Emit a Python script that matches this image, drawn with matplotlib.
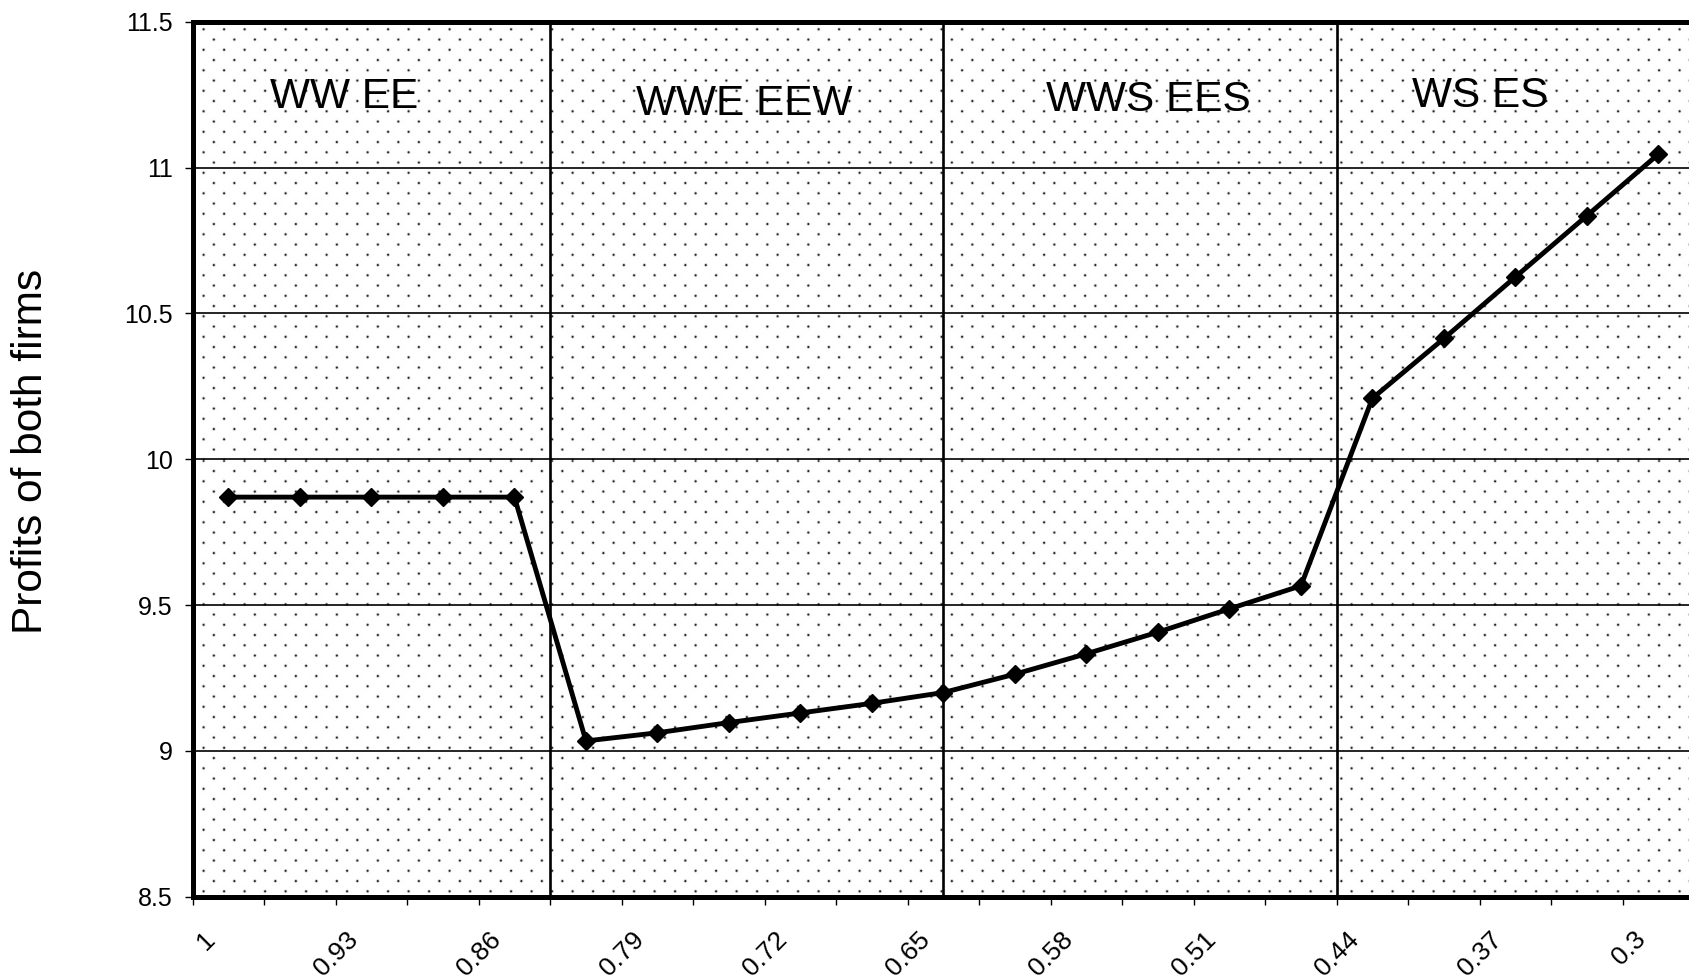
import numpy as np
import matplotlib
matplotlib.use('Agg')
import matplotlib.pyplot as plt
from matplotlib.transforms import ScaledTranslation

plt.rcParams['font.family'] = ['Liberation Sans', 'DejaVu Sans']

# ---------------- data ----------------
price_ratio = [1, 0.965, 0.93, 0.895, 0.86, 0.825, 0.79, 0.755, 0.72, 0.685,
               0.65, 0.615, 0.58, 0.545, 0.51, 0.475, 0.44, 0.405, 0.37, 0.335, 0.3]
profits = [9.87, 9.87, 9.87, 9.87, 9.87, 9.034, 9.062, 9.097, 9.13, 9.163,
           9.2, 9.263, 9.333, 9.407, 9.487, 9.566, 10.209, 10.414, 10.625, 10.835, 11.046]
x_tick_labels = ['1', '0.93', '0.86', '0.79', '0.72', '0.65', '0.58', '0.51', '0.44', '0.37', '0.3']
y_ticks = [8.5, 9, 9.5, 10, 10.5, 11, 11.5]
y_tick_labels = ['8.5', '9', '9.5', '10', '10.5', '11', '11.5']
regime_labels = ['WW EE', 'WWE EEW', 'WWS EES', 'WS ES']
y_label = 'Profits of both firms'

# ---------------- figure ----------------
FW, FH = 1690, 977
fig = plt.figure(figsize=(FW / 100, FH / 100), dpi=100)
ax_left, ax_top, ax_right, ax_bottom = 192.7, 21.7, 1694.2, 896.7
ax = fig.add_axes([ax_left / FW, 1 - ax_bottom / FH,
                   (ax_right - ax_left) / FW, (ax_bottom - ax_top) / FH])

# dotted background pattern
H = int(round(ax_bottom - ax_top))
W = int(round(ax_right - ax_left))
yy, xx = np.mgrid[0:H, 0:W].astype(float) + 0.5
y0 = 30.0 - ax_top
x0 = 203.3 - ax_left
rp, cp = 10.25, 20.5
r = np.round((yy - y0) / rp)
dy = yy - (y0 + r * rp)
xoff = x0 + (r % 2) * cp / 2
dx = np.mod(xx - xoff + cp / 2, cp) - cp / 2
dark = np.clip(1.05 * np.exp(-(dx ** 2 + dy ** 2) / (2 * 0.8 ** 2)), 0, 0.85)
img = np.repeat((1 - dark)[..., None], 3, axis=2)
ax.imshow(img, extent=(0, 1, 0, 1), transform=ax.transAxes, aspect='auto',
          interpolation='nearest', zorder=0)

idx = np.arange(len(price_ratio))

# horizontal gridlines
for yv in y_ticks[1:-1]:
    ax.axhline(yv, color='black', linewidth=1.2, zorder=1)

# regime separators
for b in [4.5, 10, 15.5]:
    ax.axvline(b, color='black', linewidth=1.9, zorder=2)

# data line
ax.plot(idx, profits, color='black', linewidth=3.5, marker='D',
        markersize=9.6, markeredgewidth=1, markerfacecolor='black',
        markeredgecolor='black', zorder=4, clip_on=False)

# regime labels
label_pos = [(1.62, 11.203), (7.22, 11.18), (12.86, 11.195), (17.51, 11.207)]
for (xp, yp), txt in zip(label_pos, regime_labels):
    ax.text(xp, yp, txt, ha='center', va='baseline', fontsize=30.5, color='black', zorder=5)

ax.set_xlim(-0.5, len(price_ratio) - 0.5)
ax.set_ylim(8.5, 11.5)

# x axis: tick marks between categories, labels every other category
ax.set_xticks(idx[::2])
ax.set_xticklabels(x_tick_labels, rotation=45, ha='right', va='center',
                   rotation_mode='anchor', fontsize=19)
ax.set_xticks(np.arange(-0.5, len(price_ratio), 1.0), minor=True)
ax.tick_params(axis='x', which='major', length=0, pad=28)
ax.tick_params(axis='x', which='minor', length=6, width=1, direction='out', color='black')
shift = ScaledTranslation(-17 / 100, 0, fig.dpi_scale_trans)
for lbl in ax.get_xticklabels():
    lbl.set_transform(lbl.get_transform() + shift)

# y axis
ax.set_yticks(y_ticks)
ax.set_yticklabels(y_tick_labels, fontsize=18)
ax.tick_params(axis='y', which='major', length=6, width=1, direction='out',
               pad=8.5, color='black')

for s in ax.spines.values():
    s.set_linewidth(3.6)
    s.set_color('black')
    s.set_capstyle('projecting')
    s.set_zorder(6)

fig.text(31.5 / FW, 1 - 451.7 / FH, y_label, rotation=90, ha='center',
         va='center', fontsize=30.5, color='black')

fig.savefig('out.png', dpi=100)
